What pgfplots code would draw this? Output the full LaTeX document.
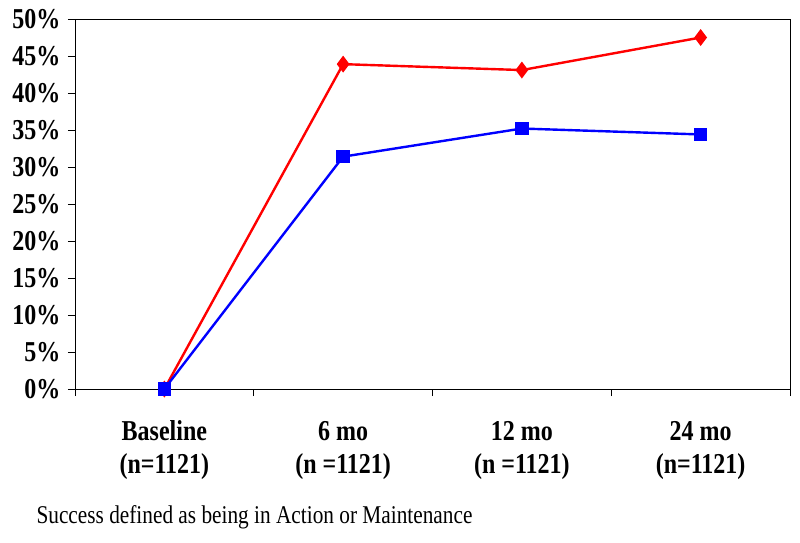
\documentclass[border=0pt]{standalone}
\usepackage{fontspec}
\setmainfont{Liberation Serif}
\usepackage{graphicx}
\usepackage{pgfplots}
\pgfplotsset{compat=1.18}
\newcommand\tall[1]{\scalebox{1}[1.2]{#1}}
\newcommand\cat[2]{\tall{\begin{tabular}{@{}c@{}}#1\\#2\end{tabular}}}

\begin{document}
\begin{tikzpicture}
\begin{axis}[
    scale only axis,
    width=715pt, height=370pt,
    xmin=0, xmax=4,
    ymin=0, ymax=50,
    xtick={0,1,2,3,4},
    xticklabels={},
    extra x ticks={0.5,1.5,2.5,3.5},
    extra x tick labels={\cat{Baseline}{(n=1121)}, \cat{6 mo}{(n =1121)}, \cat{12 mo}{(n =1121)}, \cat{24 mo}{(n=1121)}},
    extra x tick style={major tick length=0pt, tick label style={font=\fontsize{24}{27.5}\selectfont\bfseries, anchor=north, yshift=-25pt}},
    ytick={0,5,...,50},
    yticklabel={\tall{\pgfmathprintnumber{\tick}\%}},
    /pgf/number format/assume math mode=true,
    yticklabel style={font=\fontsize{24}{28}\selectfont\bfseries, xshift=-4pt},
    tick align=outside,
    major tick length=7pt,
    tick style={black, line width=0.8pt},
    axis line style={line width=0.8pt},
    axis x line*=bottom, axis y line*=left,
    clip=false,
]
\draw[line width=0.8pt] (axis cs:0,50) -- (axis cs:4,50) -- (axis cs:4,0);

\addplot[color=red, line width=2.4pt, mark=diamond*, mark size=6.5pt, mark options={solid}]
    coordinates {(0.5,0) (1.5,43.9) (2.5,43.1) (3.5,47.5)};
\addplot[color=blue, line width=2.4pt, mark=square*, mark size=5.5pt]
    coordinates {(0.5,0) (1.5,31.4) (2.5,35.2) (3.5,34.4)};
\end{axis}
\node[anchor=west, font=\fontsize{21.3}{24}\selectfont] at (-42pt,-128pt) {\tall{Success defined as being in Action or Maintenance}};
\pgfresetboundingbox
\path (-75pt,-153pt) rectangle (725pt,389pt);
\end{tikzpicture}
\end{document}
